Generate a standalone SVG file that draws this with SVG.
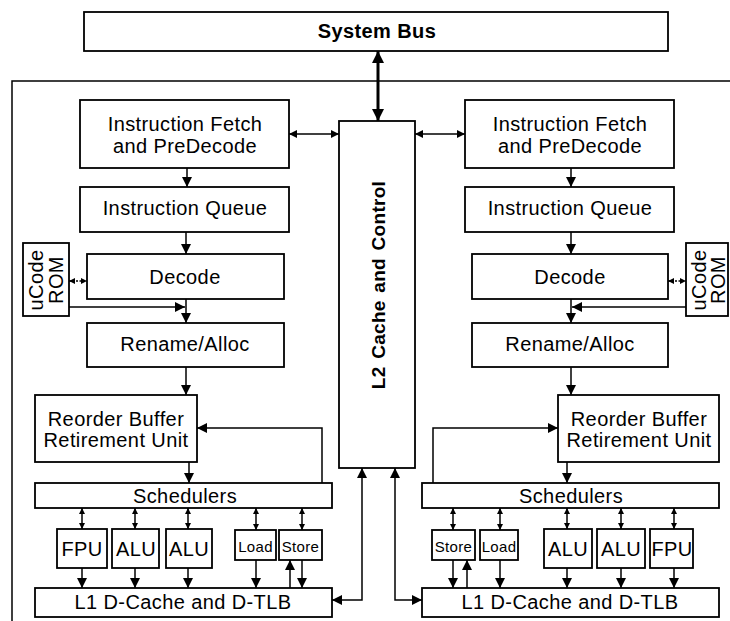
<svg xmlns="http://www.w3.org/2000/svg" width="730" height="621" viewBox="0 0 730 621">
<style>
.box{fill:#fff;stroke:#000;stroke-width:1.8}
.c{fill:none;stroke:#000;stroke-width:1.5}
.t{font-family:"Liberation Sans",Arial,Helvetica,sans-serif;font-size:20px;letter-spacing:0.4px;text-anchor:middle;fill:#000}
.b{font-weight:bold}
.s{font-size:15px;letter-spacing:0.3px}
</style>
<defs>
<marker id="ah" viewBox="0 0 10 10" refX="10" refY="5" markerWidth="10" markerHeight="10" markerUnits="userSpaceOnUse" orient="auto-start-reverse"><path d="M0,0 L10,5 L0,10 Z" fill="#000"/></marker>
<marker id="am" viewBox="0 0 10 10" refX="10" refY="5" markerWidth="9" markerHeight="8" markerUnits="userSpaceOnUse" orient="auto-start-reverse"><path d="M0,0 L10,5 L0,10 Z" fill="#000"/></marker>
<marker id="as" viewBox="0 0 10 10" refX="10" refY="5" markerWidth="6" markerHeight="6" markerUnits="userSpaceOnUse" orient="auto-start-reverse"><path d="M0,0 L10,5 L0,10 Z" fill="#000"/></marker>
<marker id="ab" viewBox="0 0 10 10" refX="10" refY="5" markerWidth="13" markerHeight="12" markerUnits="userSpaceOnUse" orient="auto-start-reverse"><path d="M0,0 L10,5 L0,10 Z" fill="#000"/></marker>
</defs>
<rect width="730" height="621" fill="#fff"/>
<g id="frame"><path class="c" d="M730,81 H12 V621"/></g>
<g id="bus"><rect class="box" x="84" y="12" width="584" height="39"/><text class="t b" x="377" y="38">System Bus</text></g>
<g id="l2"><rect class="box" x="339" y="121" width="76" height="347"/><text class="t b" transform="translate(385,285) rotate(-90)" x="0" y="0" style="font-size:19px;letter-spacing:0.3px" word-spacing="2">L2 Cache and Control</text></g>

<g id="if-l"><rect class="box" x="80" y="100" width="209" height="68"/><text class="t" x="185" y="131">Instruction Fetch</text><text class="t" x="185" y="153">and PreDecode</text></g>
<g id="iq-l"><rect class="box" x="80" y="187" width="209" height="45"/><text class="t" x="185" y="215">Instruction Queue</text></g>
<g id="ucode-l"><rect class="box" x="23" y="243" width="46" height="73"/><text class="t" transform="translate(43,280) rotate(-90)">uCode</text><text class="t" transform="translate(63,280) rotate(-90)">ROM</text></g>
<g id="dec-l"><rect class="box" x="87" y="254" width="197" height="45"/><text class="t" x="185" y="284">Decode</text></g>
<g id="ren-l"><rect class="box" x="87" y="323" width="197" height="44"/><text class="t" x="185" y="351">Rename/Alloc</text></g>
<g id="rob-l"><rect class="box" x="35" y="395" width="162" height="67"/><text class="t" x="116" y="426">Reorder Buffer</text><text class="t" x="116" y="447">Retirement Unit</text></g>
<g id="sch-l"><rect class="box" x="35" y="483" width="297" height="25"/><text class="t" x="185" y="503">Schedulers</text></g>
<g id="fpu-l"><rect class="box" x="57" y="529" width="50" height="39"/><text class="t" x="82" y="556">FPU</text></g>
<g id="alu1-l"><rect class="box" x="112" y="529" width="47" height="39"/><text class="t" x="136" y="556">ALU</text></g>
<g id="alu2-l"><rect class="box" x="166" y="529" width="46" height="39"/><text class="t" x="189" y="556">ALU</text></g>
<g id="load-l"><rect class="box" x="235" y="530" width="41" height="30"/><text class="t s" x="255.5" y="552">Load</text></g>
<g id="store-l"><rect class="box" x="279" y="530" width="43" height="30"/><text class="t s" x="300.5" y="552">Store</text></g>
<g id="l1-l"><rect class="box" x="35" y="588" width="297" height="29"/><text class="t" x="183" y="609">L1 D-Cache and D-TLB</text></g>

<g id="if-r"><rect class="box" x="465" y="100" width="209" height="68"/><text class="t" x="570" y="131">Instruction Fetch</text><text class="t" x="570" y="153">and PreDecode</text></g>
<g id="iq-r"><rect class="box" x="465" y="187" width="209" height="45"/><text class="t" x="570" y="215">Instruction Queue</text></g>
<g id="ucode-r"><rect class="box" x="686" y="243" width="42" height="73"/><text class="t" transform="translate(706,280) rotate(-90)">uCode</text><text class="t" transform="translate(725,280) rotate(-90)">ROM</text></g>
<g id="dec-r"><rect class="box" x="472" y="254" width="196" height="45"/><text class="t" x="570" y="284">Decode</text></g>
<g id="ren-r"><rect class="box" x="472" y="323" width="196" height="44"/><text class="t" x="570" y="351">Rename/Alloc</text></g>
<g id="rob-r"><rect class="box" x="558" y="395" width="161" height="67"/><text class="t" x="639" y="426">Reorder Buffer</text><text class="t" x="639" y="447">Retirement Unit</text></g>
<g id="sch-r"><rect class="box" x="422" y="483" width="297" height="25"/><text class="t" x="571" y="503">Schedulers</text></g>
<g id="store-r"><rect class="box" x="432" y="530" width="43" height="30"/><text class="t s" x="453.5" y="552">Store</text></g>
<g id="load-r"><rect class="box" x="480" y="530" width="38" height="30"/><text class="t s" x="499" y="552">Load</text></g>
<g id="alu1-r"><rect class="box" x="544" y="529" width="48" height="39"/><text class="t" x="568" y="556">ALU</text></g>
<g id="alu2-r"><rect class="box" x="597" y="529" width="48" height="39"/><text class="t" x="621" y="556">ALU</text></g>
<g id="fpu-r"><rect class="box" x="650" y="529" width="43" height="39"/><text class="t" x="672" y="556">FPU</text></g>
<g id="l1-r"><rect class="box" x="422" y="588" width="297" height="29"/><text class="t" x="570" y="609">L1 D-Cache and D-TLB</text></g>

<g id="connectors">
<path d="M378,51 V121" fill="none" stroke="#000" stroke-width="3" marker-start="url(#ab)" marker-end="url(#ab)"/>
<path class="c" d="M289,134 H339" marker-start="url(#am)" marker-end="url(#am)"/>
<path class="c" d="M415,134 H465" marker-start="url(#am)" marker-end="url(#am)"/>
<path class="c" d="M187,168 V187" marker-end="url(#ah)"/>
<path class="c" d="M186,232 V254" marker-end="url(#ah)"/>
<path class="c" d="M186,299 V323" marker-end="url(#ah)"/>
<path class="c" d="M69,281 H87" stroke-dasharray="2,1.5" marker-start="url(#as)" marker-end="url(#as)"/>
<path class="c" d="M69,307 H185" marker-end="url(#ah)"/>
<path class="c" d="M186,367 V395" marker-end="url(#ah)"/>
<path class="c" d="M189,462 V483" marker-end="url(#ah)"/>
<path class="c" d="M322,483 V428 H197" marker-end="url(#ah)"/>
<path class="c" d="M82,508 V529" marker-start="url(#as)" marker-end="url(#as)"/>
<path class="c" d="M135,508 V529" marker-start="url(#as)" marker-end="url(#as)"/>
<path class="c" d="M188,508 V529" marker-start="url(#as)" marker-end="url(#as)"/>
<path class="c" d="M256,508 V530" marker-start="url(#as)" marker-end="url(#as)"/>
<path class="c" d="M302,508 V530" marker-start="url(#as)" marker-end="url(#as)"/>
<path class="c" d="M82,568 V588" marker-end="url(#ah)"/>
<path class="c" d="M135,568 V588" marker-end="url(#ah)"/>
<path class="c" d="M188,568 V588" marker-end="url(#ah)"/>
<path class="c" d="M256,560 V588" marker-end="url(#ah)"/>
<path class="c" d="M302,560 V588" marker-end="url(#ah)"/>
<path class="c" d="M290,588 V560" marker-end="url(#ah)"/>
<path class="c" d="M362,468 V600 H332" marker-start="url(#ah)" marker-end="url(#ah)"/>

<path class="c" d="M571,168 V187" marker-end="url(#ah)"/>
<path class="c" d="M571,232 V254" marker-end="url(#ah)"/>
<path class="c" d="M571,299 V323" marker-end="url(#ah)"/>
<path class="c" d="M668,281 H686" stroke-dasharray="2,1.5" marker-start="url(#as)" marker-end="url(#as)"/>
<path class="c" d="M686,307 H572" marker-end="url(#ah)"/>
<path class="c" d="M571,367 V395" marker-end="url(#ah)"/>
<path class="c" d="M567,462 V483" marker-end="url(#ah)"/>
<path class="c" d="M433,483 V428 H558" marker-end="url(#ah)"/>
<path class="c" d="M453,508 V530" marker-start="url(#as)" marker-end="url(#as)"/>
<path class="c" d="M500,508 V530" marker-start="url(#as)" marker-end="url(#as)"/>
<path class="c" d="M567,508 V529" marker-start="url(#as)" marker-end="url(#as)"/>
<path class="c" d="M621,508 V529" marker-start="url(#as)" marker-end="url(#as)"/>
<path class="c" d="M674,508 V529" marker-start="url(#as)" marker-end="url(#as)"/>
<path class="c" d="M453,560 V588" marker-end="url(#ah)"/>
<path class="c" d="M467,588 V560" marker-end="url(#ah)"/>
<path class="c" d="M500,560 V588" marker-end="url(#ah)"/>
<path class="c" d="M567,568 V588" marker-end="url(#ah)"/>
<path class="c" d="M621,568 V588" marker-end="url(#ah)"/>
<path class="c" d="M674,568 V588" marker-end="url(#ah)"/>
<path class="c" d="M395,468 V600 H422" marker-start="url(#ah)" marker-end="url(#ah)"/>
</g>
</svg>
